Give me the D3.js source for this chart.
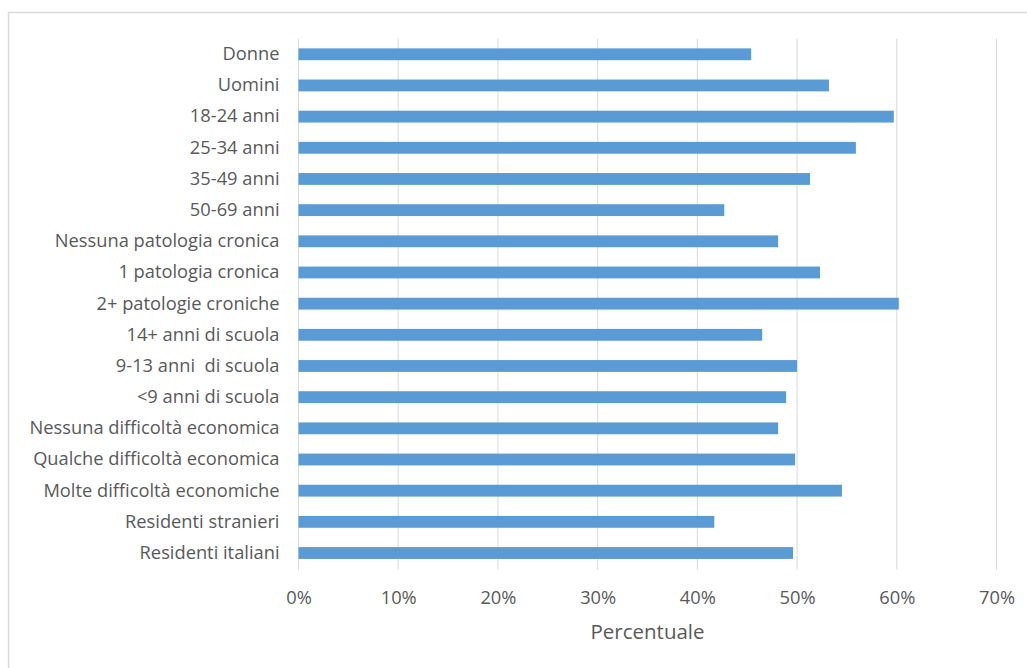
<!DOCTYPE html>
<html>
<head>
<meta charset="utf-8">
<script src="https://cdn.jsdelivr.net/npm/d3@7"></script>
<style>
  html, body { margin: 0; padding: 0; background: #fff; }
  svg { display: block; }
  text { font-family: "Open Sans", Lato, sans-serif; fill: #595959; white-space: pre; }
</style>
</head>
<body>
<svg id="chart" width="1027" height="668"></svg>
<script>
const categories = [
  "Donne", "Uomini", "18-24 anni", "25-34 anni", "35-49 anni", "50-69 anni",
  "Nessuna patologia cronica", "1 patologia cronica", "2+ patologie croniche",
  "14+ anni di scuola", "9-13 anni  di scuola", "<9 anni di scuola",
  "Nessuna difficoltà economica", "Qualche difficoltà economica",
  "Molte difficoltà economiche", "Residenti stranieri", "Residenti italiani"
];
const values = [45.4, 53.2, 59.7, 55.9, 51.3, 42.7, 48.1, 52.3, 60.2, 46.5, 50.0, 48.9, 48.1, 49.8, 54.5, 41.7, 49.6];
const tickValues = [0, 10, 20, 30, 40, 50, 60, 70];
const xTitle = "Percentuale";

const svg = d3.select("#chart");
const mLeft = 298.5, mRight = 996.5, mTop = 38.7, mBottom = 568.6;
const font = "'Open Sans', Lato, sans-serif";

svg.append("rect")
  .attr("x", 8.5).attr("y", 12.5)
  .attr("width", 1100).attr("height", 800)
  .attr("fill", "none").attr("stroke", "#d9d9d9").attr("stroke-width", 1.5);

const x = d3.scaleLinear().domain([0, 70]).range([mLeft, mRight]);
const y = d3.scaleBand().domain(categories).range([mTop, mBottom]).paddingInner(0.62).paddingOuter(0.31);

// gridlines
svg.append("g").selectAll("line").data(tickValues).join("line")
  .attr("x1", d => x(d)).attr("x2", d => x(d))
  .attr("y1", mTop).attr("y2", mBottom + 1)
  .attr("stroke", "#d9d9d9").attr("stroke-width", 1);

// bars
svg.append("g").selectAll("rect").data(values).join("rect")
  .attr("x", x(0))
  .attr("y", (d, i) => y(categories[i]))
  .attr("width", d => x(d) - x(0))
  .attr("height", y.bandwidth())
  .attr("fill", "#5b9bd5");

// category labels
const yAxis = d3.axisLeft(y).tickSize(0).tickPadding(19);
const gy = svg.append("g").attr("transform", `translate(${mLeft},0)`).call(yAxis);
gy.select(".domain").remove();
gy.selectAll("text").attr("font-size", 18.3).style("fill", "#595959").style("font-family", font)
  .style("white-space", "pre");

// x tick labels
const xAxis = d3.axisBottom(x).tickValues(tickValues).tickFormat(d => d + "%").tickSize(0).tickPadding(22);
const gx = svg.append("g").attr("transform", `translate(0,${mBottom})`).call(xAxis);
gx.select(".domain").remove();
gx.selectAll("text").attr("font-size", 18.3).style("fill", "#595959").style("font-family", font);

// axis title
svg.append("text")
  .attr("x", (mLeft + mRight) / 2).attr("y", 639)
  .attr("text-anchor", "middle")
  .attr("font-size", 20.5)
  .style("font-family", font)
  .text(xTitle);
</script>
</body>
</html>
